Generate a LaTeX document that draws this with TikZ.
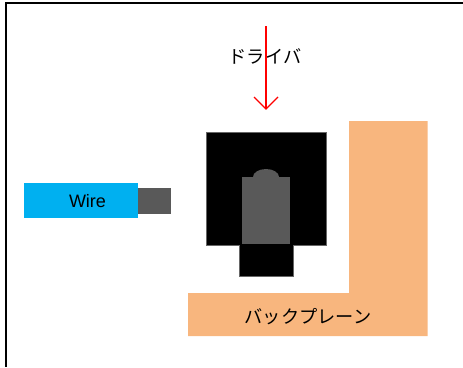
\documentclass[tikz,border=0pt]{standalone}
\usepackage{fontspec}
\newfontfamily\cjk{Noto Sans CJK JP}
\setmainfont{Liberation Sans}
\definecolor{wireblue}{RGB}{0,176,240}
\definecolor{tipgray}{RGB}{89,89,89}
\definecolor{plane}{RGB}{248,182,126}
\begin{document}
\begin{tikzpicture}[x=1pt,y=-1pt,
  lab/.style={inner sep=0pt,text=black},
  partblack/.style={fill=black,draw=black!60!white,line width=0.5pt},
  partgray/.style={fill=tipgray,draw=none},
  frameline/.style={draw=black,line width=2.2pt}]
\useasboundingbox (0,0) rectangle (463,367);
\coordinate (ftr) at (463,3.3);
\coordinate (ftl) at (6.3,3.3);
\coordinate (fbl) at (6.3,367);
\draw[frameline] (ftr) -- (ftl) -- (fbl);
% backplane
\fill[plane] (349,121) -- (427.5,121) -- (427.5,336) -- (188,336) -- (188,293) -- (349,293) -- cycle;
\node[lab,font=\cjk\fontsize{18.2}{20}\selectfont] (bp) at (308,316.5) {バックプレーン};
% driver body
\path[partblack] (206,132.5) -- (326,132.5) -- (326,245) -- (293.5,245) -- (293.5,276) -- (239,276) -- (239,245) -- (206,245) -- cycle;
\path[partgray] (253,177) arc[start angle=180,end angle=360,x radius=13,y radius=8] -- cycle;
\path[partgray] (242,177) rectangle (290,244);
% wire
\node[fill=wireblue,minimum width=114pt,minimum height=35.5pt,inner sep=0pt,anchor=north west] (wire) at (24,182.5) {};
\node[fill=tipgray,minimum width=32.5pt,minimum height=26pt,inner sep=0pt,anchor=north west] (tip) at (138,187.5) {};
\node[lab,font=\fontsize{18}{20}\selectfont] at (87.5,201) {Wire};
% driver label and arrow
\node[lab,font=\cjk\fontsize{18.2}{20}\selectfont] (drv) at (265,56) {ドライバ};
\coordinate (a0) at (266,26);
\coordinate (a1) at (266,109);
\coordinate (h1) at (254,97);
\coordinate (h2) at (278,97);
\draw[red,line width=1.3pt] (a0) -- (a1);
\draw[red,line width=1.3pt,line join=miter] (h1) -- (a1) -- (h2);
\end{tikzpicture}
\end{document}
